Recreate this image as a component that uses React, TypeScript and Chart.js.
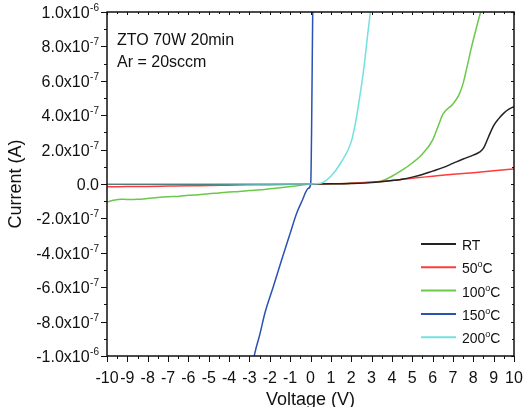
import { useEffect, useRef } from 'react';
import { Chart, registerables } from 'chart.js';

Chart.register(...registerables);

const FONT = '"Liberation Sans", Arial, Helvetica, sans-serif';
const INK = '#111111';

// I-V sweeps, voltage in V and current in A
const rtVoltage = [-10, -8, -6, -4, -2, 0, 1, 2, 3, 4, 4.5, 5, 5.5, 6, 6.5, 7, 7.5, 8, 8.3, 8.5, 8.75, 9, 9.25, 9.5, 9.75, 10];
const rtCurrent = [-2e-9, -2e-9, -2e-9, -1e-9, -1e-9, 0, 1e-9, 3e-9, 8e-9, 2.0e-8, 2.8e-8, 4.0e-8, 5.5e-8, 7.5e-8, 9.5e-8, 1.2e-7, 1.45e-7, 1.68e-7, 1.85e-7, 2.08e-7, 2.75e-7, 3.4e-7, 3.8e-7, 4.12e-7, 4.35e-7, 4.5e-7];

const t50Voltage = [-10, -9, -8, -7, -6, -5, -4, -3, -2, -1, 0, 1, 2, 3, 4, 5, 6, 7, 8, 9, 10];
const t50Current = [-1.6e-8, -1.5e-8, -1.4e-8, -1.2e-8, -1.0e-8, -9e-9, -7e-9, -5e-9, -4e-9, -2e-9, 0, 1e-9, 4e-9, 1.1e-8, 2.1e-8, 3.4e-8, 4.5e-8, 5.6e-8, 6.6e-8, 7.7e-8, 8.7e-8];

const t100Voltage = [-10, -9.7, -9.3, -9, -8.5, -8, -7.5, -7, -6.5, -6, -5.5, -5, -4.5, -4, -3.5, -3, -2.5, -2, -1.5, -1, -0.5, 0, 0.5, 1, 1.5, 2, 2.5, 3, 3.5, 4, 4.5, 5, 5.5, 6, 6.3, 6.5, 7, 7.3, 7.5, 7.7, 7.9, 8.2, 8.4, 8.5];
const t100Current = [-1.05e-7, -9.5e-8, -8.8e-8, -9.0e-8, -8.9e-8, -8.4e-8, -7.8e-8, -7.4e-8, -7.2e-8, -6.6e-8, -6.2e-8, -5.6e-8, -5.2e-8, -4.7e-8, -4.4e-8, -3.8e-8, -3.4e-8, -2.8e-8, -2.2e-8, -1.5e-8, -8e-9, 0, 0, 1e-9, 2e-9, 4e-9, 7e-9, 1.0e-8, 1.8e-8, 4.5e-8, 8.0e-8, 1.22e-7, 1.75e-7, 2.55e-7, 3.45e-7, 4.05e-7, 4.65e-7, 5.2e-7, 5.85e-7, 6.85e-7, 7.9e-7, 9.3e-7, 1.02e-6, 1.08e-6];

const t150Voltage = [-2.8, -2.73, -2.48, -2.24, -1.83, -1.42, -1.0, -0.68, -0.43, -0.1, 0.01, 0.11, 0.12];
const t150Current = [-1.02e-6, -9.8e-7, -8.7e-7, -7.5e-7, -5.97e-7, -4.42e-7, -2.87e-7, -1.7e-7, -1.02e-7, -2.5e-8, 0, 1.0e-6, 1.1e-6];

const t200Voltage = [-10, -5, 0, 0.5, 1, 1.5, 2, 2.2, 2.45, 2.65, 2.8, 2.93, 3.0];
const t200Current = [1e-9, 1e-9, 0, 4e-9, 4.5e-8, 1.25e-7, 2.45e-7, 3.5e-7, 5.3e-7, 7.0e-7, 8.6e-7, 9.9e-7, 1.08e-6];

const seriesLabels = ['RT', '50°C', '100°C', '150°C', '200°C'];
const seriesColors = ['#222222', '#ff3b3b', '#6cc84a', '#2a52b2', '#74e0e0'];
const seriesVoltage = [rtVoltage, t50Voltage, t100Voltage, t150Voltage, t200Voltage];
const seriesCurrent = [rtCurrent, t50Current, t100Current, t150Current, t200Current];
// stacking: lower order is painted on top
const seriesOrder = [1, 2, 3, 4, 0];

const xMin = -10;
const xMax = 10;
const yMin = -1.0e-6;
const yMax = 1.0e-6;

const yTickValues = [1.0e-6, 8.0e-7, 6.0e-7, 4.0e-7, 2.0e-7, 0, -2.0e-7, -4.0e-7, -6.0e-7, -8.0e-7, -1.0e-6];
const yTickMantissa = ['1.0', '8.0', '6.0', '4.0', '2.0', '0.0', '-2.0', '-4.0', '-6.0', '-8.0', '-1.0'];
const yTickExponent = ['-6', '-7', '-7', '-7', '-7', '', '-7', '-7', '-7', '-7', '-6'];

const noteLines = ['ZTO 70W 20min', 'Ar = 20sccm'];

// draws "50°C" with a raised small "o" in place of the degree sign
function drawDegreeText(ctx: CanvasRenderingContext2D, text: string, x: number, y: number, size: number) {
  const parts = text.split('°');
  ctx.textAlign = 'left';
  ctx.font = `${size}px ${FONT}`;
  ctx.fillText(parts[0], x, y);
  let cx = x + ctx.measureText(parts[0]).width;
  if (parts.length > 1) {
    ctx.font = `${Math.round(size * 0.62)}px ${FONT}`;
    ctx.fillText('o', cx, y - size * 0.42);
    cx += ctx.measureText('o').width;
    ctx.font = `${size}px ${FONT}`;
    ctx.fillText(parts[1], cx, y);
  }
}

const frameAndTicks = {
  id: 'frameAndTicks',
  afterDatasetsDraw(chart: any) {
    const { ctx, chartArea: a, scales } = chart;
    const xs = scales.x;
    const ys = scales.y;
    ctx.save();
    ctx.strokeStyle = INK;
    ctx.lineWidth = 1;
    ctx.beginPath();
    const xMajor: number[] = xs.ticks.map((t: any) => t.value);
    const xMinor = xMajor.slice(1).map((v, i) => (v + xMajor[i]) / 2);
    const tickX = (v: number, outLen: number, inLen: number) => {
      const px = Math.round(xs.getPixelForValue(v)) + 0.5;
      ctx.moveTo(px, a.bottom);
      ctx.lineTo(px, a.bottom + outLen);
      ctx.moveTo(px, a.top);
      ctx.lineTo(px, a.top + inLen);
    };
    xMajor.forEach((v) => tickX(v, 6, 3));
    xMinor.forEach((v) => tickX(v, 3, 2));
    const yMinor = yTickValues.slice(1).map((v, i) => (v + yTickValues[i]) / 2);
    const tickY = (v: number, outLen: number, inLen: number) => {
      const py = Math.round(ys.getPixelForValue(v)) + 0.5;
      ctx.moveTo(a.left, py);
      ctx.lineTo(a.left - outLen, py);
      ctx.moveTo(a.right, py);
      ctx.lineTo(a.right - inLen, py);
    };
    yTickValues.forEach((v) => tickY(v, 6, 3));
    yMinor.forEach((v) => tickY(v, 3, 2));
    ctx.stroke();
    ctx.lineWidth = 1.5;
    ctx.strokeRect(a.left, a.top, a.right - a.left, a.bottom - a.top);

    // y tick labels with raised exponents
    ctx.fillStyle = INK;
    ctx.textBaseline = 'alphabetic';
    const right = a.left - 8;
    yTickValues.forEach((v, i) => {
      const py = ys.getPixelForValue(v);
      const exp = yTickExponent[i];
      let ew = 0;
      if (exp) {
        ctx.font = `10px ${FONT}`;
        ew = ctx.measureText(exp).width;
        ctx.textAlign = 'left';
        ctx.fillText(exp, right - ew, py - 1);
      }
      ctx.font = `16px ${FONT}`;
      ctx.textAlign = 'right';
      ctx.fillText(exp ? yTickMantissa[i] + 'x10' : yTickMantissa[i], right - ew - (exp ? 0.5 : 0), py + 6);
    });
    ctx.restore();
  },
  afterDraw(chart: any) {
    const { ctx, chartArea: a } = chart;
    ctx.save();
    ctx.fillStyle = INK;
    ctx.textBaseline = 'alphabetic';
    ctx.textAlign = 'left';
    ctx.font = `16px ${FONT}`;
    noteLines.forEach((line, i) => ctx.fillText(line, a.left + 10, a.top + 33 + i * 21.7));

    // legend
    const rowStart = a.bottom - 112;
    chart.data.datasets.forEach((ds: any, i: number) => {
      const y = rowStart + i * 23.3;
      ctx.strokeStyle = ds.borderColor;
      ctx.lineWidth = 2;
      ctx.beginPath();
      ctx.moveTo(a.right - 93, y);
      ctx.lineTo(a.right - 58, y);
      ctx.stroke();
      ctx.fillStyle = INK;
      drawDegreeText(ctx, ds.label, a.right - 52, y + 6, 14);
    });
    ctx.restore();
  },
};

export default function App() {
  const canvasRef = useRef<HTMLCanvasElement | null>(null);

  useEffect(() => {
    const canvas = canvasRef.current;
    if (!canvas) return;
    const datasets = seriesLabels.map((label, s) => ({
      label,
      data: seriesVoltage[s].map((v, i) => ({ x: v, y: seriesCurrent[s][i] })),
      borderColor: seriesColors[s],
      backgroundColor: seriesColors[s],
      borderWidth: 1.5,
      pointRadius: 0,
      cubicInterpolationMode: 'monotone' as const,
      order: seriesOrder[s],
    }));
    const chart = new Chart(canvas, {
      type: 'line',
      data: { datasets },
      options: {
        animation: false,
        responsive: false,
        maintainAspectRatio: false,
        layout: { padding: { top: 12, right: 12, left: 0, bottom: 0 } },
        plugins: { legend: { display: false }, tooltip: { enabled: false } },
        scales: {
          x: {
            type: 'linear',
            min: xMin,
            max: xMax,
            grid: { display: false, drawTicks: false },
            border: { display: false },
            ticks: {
              stepSize: 1,
              autoSkip: false,
              maxRotation: 0,
              minRotation: 0,
              padding: 13,
              color: INK,
              font: { family: FONT, size: 16 },
            },
            title: {
              display: true,
              text: 'Voltage (V)',
              color: INK,
              font: { family: FONT, size: 18 },
              padding: { top: 0, bottom: -4 },
            },
            afterFit(s: any) {
              s.height = 51;
              s.paddingLeft = 0;
              s.paddingRight = 0;
            },
          },
          y: {
            type: 'linear',
            min: yMin,
            max: yMax,
            grid: { display: false, drawTicks: false },
            border: { display: false },
            ticks: { display: false },
            title: {
              display: true,
              text: 'Current (A)',
              color: INK,
              font: { family: FONT, size: 18 },
              padding: { top: 5, bottom: 0 },
            },
            afterFit(s: any) {
              s.width = 107;
              s.paddingTop = 0;
              s.paddingBottom = 0;
            },
          },
        },
      },
      plugins: [frameAndTicks],
    });
    return () => chart.destroy();
  }, []);

  return (
    <div style={{ position: 'fixed', left: 0, top: 0, width: 526, height: 407, background: '#fff' }}>
      <canvas ref={canvasRef} width={526} height={407} style={{ display: 'block', width: 526, height: 407 }} />
    </div>
  );
}
